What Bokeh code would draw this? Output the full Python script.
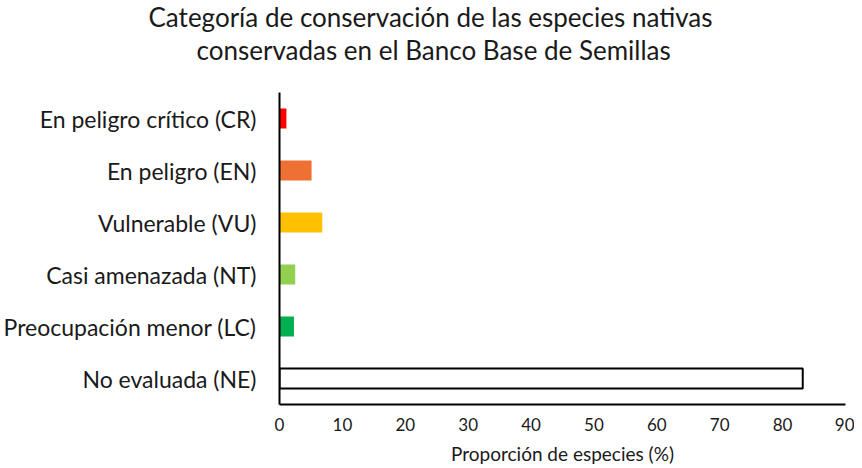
from bokeh.plotting import figure
from bokeh.models import ColumnDataSource, FactorRange, Range1d, Title, FixedTicker
from bokeh.embed import file_html
from bokeh.resources import INLINE

categories = ["En peligro crítico (CR)", "En peligro (EN)", "Vulnerable (VU)",
              "Casi amenazada (NT)", "Preocupación menor (LC)", "No evaluada (NE)"]
values = [1.1, 5.1, 6.8, 2.5, 2.3, 83.2]
colors = ["#FF0000", "#EE7033", "#FFC000", "#92D050", "#00B050", "#FFFFFF"]
line_colors = ["#FF0000", "#EE7033", "#FFC000", "#92D050", "#00B050", "#000000"]
x_ticks = [0, 10, 20, 30, 40, 50, 60, 70, 80, 90]
title_lines = ["Categoría de conservación de las especies nativas",
               "conservadas en el Banco Base de Semillas"]
x_label = "Proporción de especies (%)"

FONT = "Lato"
TXT = "#1a1a1a"

src = ColumnDataSource(dict(cat=categories, val=values, fill=colors, line=line_colors,
                            lw=[0, 0, 0, 0, 0, 2]))

p = figure(width=854, height=468, output_backend="svg", toolbar_location=None,
           y_range=FactorRange(*reversed(categories), range_padding=0),
           x_range=Range1d(0, 90),
           min_border_left=279, min_border_right=9, min_border_top=92, min_border_bottom=64)

p.hbar(y="cat", right="val", left=0, height=0.38, source=src,
       fill_color="fill", line_color="line", line_width="lw")

p.xgrid.visible = False
p.ygrid.visible = False
p.outline_line_color = None

p.xaxis.ticker = FixedTicker(ticks=x_ticks)
p.xaxis.major_tick_line_color = None
p.xaxis.minor_tick_line_color = None
p.xaxis.axis_line_color = "black"
p.xaxis.axis_line_width = 2
p.xaxis.major_label_text_font = FONT
p.xaxis.major_label_text_font_size = "17px"
p.xaxis.major_label_text_color = TXT
p.xaxis.major_label_standoff = 7
p.xaxis.axis_label = x_label
p.xaxis.axis_label_text_font = FONT
p.xaxis.axis_label_text_font_size = "19px"
p.xaxis.axis_label_text_font_style = "normal"
p.xaxis.axis_label_text_color = TXT
p.xaxis.axis_label_standoff = 8

p.yaxis.major_tick_line_color = None
p.yaxis.minor_tick_line_color = None
p.yaxis.axis_line_color = "black"
p.yaxis.axis_line_width = 2
p.yaxis.major_label_text_font = FONT
p.yaxis.major_label_text_font_size = "23px"
p.yaxis.major_label_text_color = TXT
p.yaxis.major_label_standoff = 17

# add nearest-to-plot line first
p.add_layout(Title(text=title_lines[1], align="left", offset=-83, standoff=49,
                   vertical_align="top",
                   text_font=FONT, text_font_size="26px", text_font_style="normal",
                   text_color=TXT), "above")
p.add_layout(Title(text=title_lines[0], align="left", offset=-131, standoff=-47,
                   vertical_align="bottom",
                   text_font=FONT, text_font_size="26px", text_font_style="normal",
                   text_color=TXT), "above")

open("out.html", "w").write(file_html(p, INLINE))
